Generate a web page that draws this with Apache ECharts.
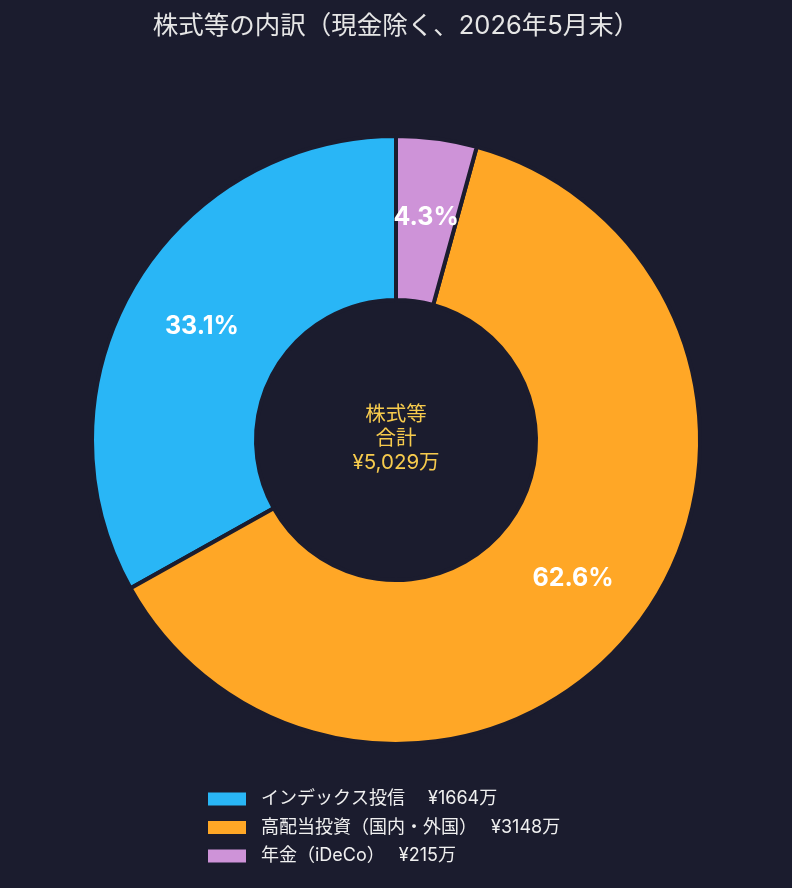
<!DOCTYPE html>
<html>
<head>
<meta charset="utf-8">
<script src="https://cdn.jsdelivr.net/npm/echarts@6/dist/echarts.min.js"></script>
<style>
  html, body { margin: 0; padding: 0; background: #1b1c2e; }
  #chart { width: 792px; height: 888px; }
</style>
</head>
<body>
<div id="chart"></div>
<script>
// 株式等の内訳
const categories = ['インデックス投信', '高配当投資（国内・外国）', '年金（iDeCo）'];
const amounts = [1664, 3148, 215]; // 万円
const colors = ['#29b6f6', '#ffa726', '#ce93d8'];
const centerLines = ['株式等', '合計', '¥5,029万'];

const jp = 'Inter, "Noto Sans CJK JP", sans-serif';

const chart = echarts.init(document.getElementById('chart'));

const option = {
  backgroundColor: '#1b1c2e',
  title: {
    text: '株式等の内訳（現金除く、2026年5月末）',
    left: 'center',
    top: 9,
    textStyle: { color: '#e6e6e6', fontSize: 25.5, fontWeight: 'normal', fontFamily: jp }
  },
  legend: {
    orient: 'vertical',
    left: 206,
    top: 790,
    padding: 0,
    itemWidth: 40,
    itemHeight: 15,
    itemGap: 10.5,
    icon: 'rect',
    data: categories,
    textStyle: { color: '#f0f0f0', fontSize: 18, fontFamily: jp, padding: [0, 0, 0, 9] },
    formatter: function (name) {
      const i = categories.indexOf(name);
      return name + '\u3000 ¥' + amounts[i] + '万';
    }
  },
  graphic: [{
    type: 'text',
    x: 396,
    y: 403,
    style: {
      text: centerLines.join('\n'),
      fill: '#f7cb4d',
      fontSize: 20.5,
      lineHeight: 24,
      align: 'center',
      fontFamily: jp
    }
  }],
  series: [{
    type: 'pie',
    center: [396, 440],
    radius: [140, 304],
    startAngle: 90,
    clockwise: false,
    percentPrecision: 1,
    avoidLabelOverlap: false,
    itemStyle: { borderColor: '#1b1c2e', borderWidth: 4 },
    label: {
      show: true,
      position: 'inside',
      formatter: '{d}%',
      color: '#ffffff',
      fontSize: 25,
      fontWeight: 'bold',
      fontFamily: jp
    },
    labelLine: { show: false },
    emphasis: { disabled: true },
    data: categories.map((name, i) => ({
      name: name,
      value: amounts[i],
      itemStyle: { color: colors[i] }
    }))
  }]
};

chart.setOption(option);
</script>
</body>
</html>
